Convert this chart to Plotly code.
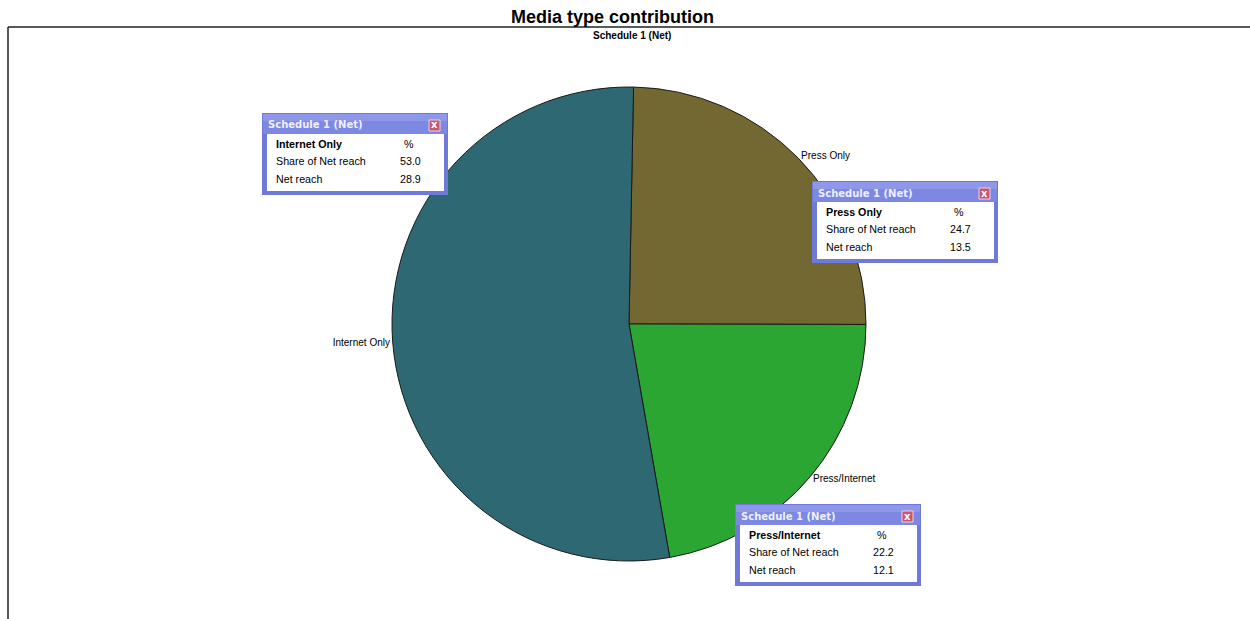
import plotly.graph_objects as go

# ---- data ----
categories = ["Press Only", "Press/Internet", "Internet Only"]
share_of_net_reach = [24.7, 22.2, 53.0]
net_reach = [13.5, 12.1, 28.9]
slice_colors = ["#736832", "#2ca632", "#2e6872"]
title_text = "Media type contribution"
subtitle_text = "Schedule 1 (Net)"

W, H = 1250, 619


def px(x):
    return x / W


def py(y):
    return 1 - y / H


fig = go.Figure()

# pie centre (629, 324), radius 237
cx, cy, r = 629, 324, 237
fig.add_trace(go.Pie(
    labels=categories,
    values=share_of_net_reach,
    sort=False,
    direction="clockwise",
    rotation=1.1,
    marker=dict(colors=slice_colors, line=dict(color="#1a1a1a", width=1)),
    textinfo="label",
    textposition="outside",
    textfont=dict(family="Liberation Sans", size=10, color="#000000"),
    showlegend=False,
    hoverinfo="skip",
    domain=dict(x=[px(cx - 300), px(cx + 300)], y=[py(cy + r), py(cy - r)]),
))

shapes = []
annotations = []

# frame lines
shapes.append(dict(type="line", xref="paper", yref="paper", x0=px(8), x1=px(1250),
                   y0=py(27), y1=py(27), line=dict(color="#222222", width=1.5)))
shapes.append(dict(type="line", xref="paper", yref="paper", x0=px(8), x1=px(8),
                   y0=py(27), y1=py(619), line=dict(color="#222222", width=1.5)))

annotations.append(dict(text="<b>" + title_text + "</b>", x=px(612), y=py(17), xref="paper",
                        yref="paper", showarrow=False, xanchor="center", yanchor="middle",
                        font=dict(family="Liberation Sans", size=18, color="#000000")))
annotations.append(dict(text="<b>" + subtitle_text + "</b>", x=px(632), y=py(35), xref="paper",
                        yref="paper", showarrow=False, xanchor="center", yanchor="middle",
                        font=dict(family="Liberation Sans", size=10, color="#000000")))

# tooltip boxes (top-left corner pixels), one per category
box_pos = {"Internet Only": (262, 113), "Press Only": (812, 181), "Press/Internet": (735, 504)}
BW, BH, TB = 186, 82, 21
border = "#6f7ad8"
bar = "#7d88e3"

for name, share, reach in zip(categories, share_of_net_reach, net_reach):
    x0, y0 = box_pos[name]
    # outer frame
    shapes.append(dict(type="rect", xref="paper", yref="paper", x0=px(x0), x1=px(x0 + BW),
                       y0=py(y0 + BH), y1=py(y0), fillcolor=border, line=dict(width=0)))
    # title bar
    shapes.append(dict(type="rect", xref="paper", yref="paper", x0=px(x0 + 1), x1=px(x0 + BW - 1),
                       y0=py(y0 + TB), y1=py(y0 + 1), fillcolor=bar, line=dict(width=0)))
    shapes.append(dict(type="rect", xref="paper", yref="paper", x0=px(x0 + 1), x1=px(x0 + BW - 1),
                       y0=py(y0 + 8), y1=py(y0 + 1), fillcolor="#9aa2ec", line=dict(width=0),
                       opacity=0.6))
    # body
    shapes.append(dict(type="rect", xref="paper", yref="paper", x0=px(x0 + 5), x1=px(x0 + BW - 4),
                       y0=py(y0 + BH - 4), y1=py(y0 + TB), fillcolor="#ffffff", line=dict(width=0)))
    # close button
    shapes.append(dict(type="rect", xref="paper", yref="paper", x0=px(x0 + 167), x1=px(x0 + 178),
                       y0=py(y0 + 18), y1=py(y0 + 7), fillcolor="#c85674",
                       line=dict(color="#f0d0dc", width=1)))
    annotations.append(dict(text="<b>x</b>", x=px(x0 + 172.5), y=py(y0 + 12), xref="paper", yref="paper",
                            showarrow=False, xanchor="center", yanchor="middle",
                            font=dict(family="DejaVu Sans", size=10, color="#ffffff")))
    annotations.append(dict(text="<b>Schedule 1 (Net)</b>", x=px(x0 + 4), y=py(y0 + 12),
                            xref="paper", yref="paper", showarrow=False, xanchor="left",
                            yanchor="middle",
                            font=dict(family="DejaVu Sans", size=10, color="#eef0ff")))
    rows = [("<b>" + name + "</b>", "%", 31), ("Share of Net reach", f"{share:.1f}", 48),
            ("Net reach", f"{reach:.1f}", 66)]
    for lab, val, dy in rows:
        annotations.append(dict(text=lab, x=px(x0 + 12), y=py(y0 + dy), xref="paper", yref="paper",
                                showarrow=False, xanchor="left", yanchor="middle",
                                font=dict(family="Liberation Sans", size=10.7, color="#000000")))
        annotations.append(dict(text=val, x=px(x0 + 136 if val != "%" else x0 + 140), y=py(y0 + dy),
                                xref="paper", yref="paper", showarrow=False, xanchor="left",
                                yanchor="middle",
                                font=dict(family="Liberation Sans", size=10.7, color="#000000")))

fig.update_layout(
    width=W, height=H,
    margin=dict(l=0, r=0, t=0, b=0),
    paper_bgcolor="#ffffff",
    plot_bgcolor="#ffffff",
    shapes=shapes,
    annotations=annotations,
)

fig.write_html("out.html")
